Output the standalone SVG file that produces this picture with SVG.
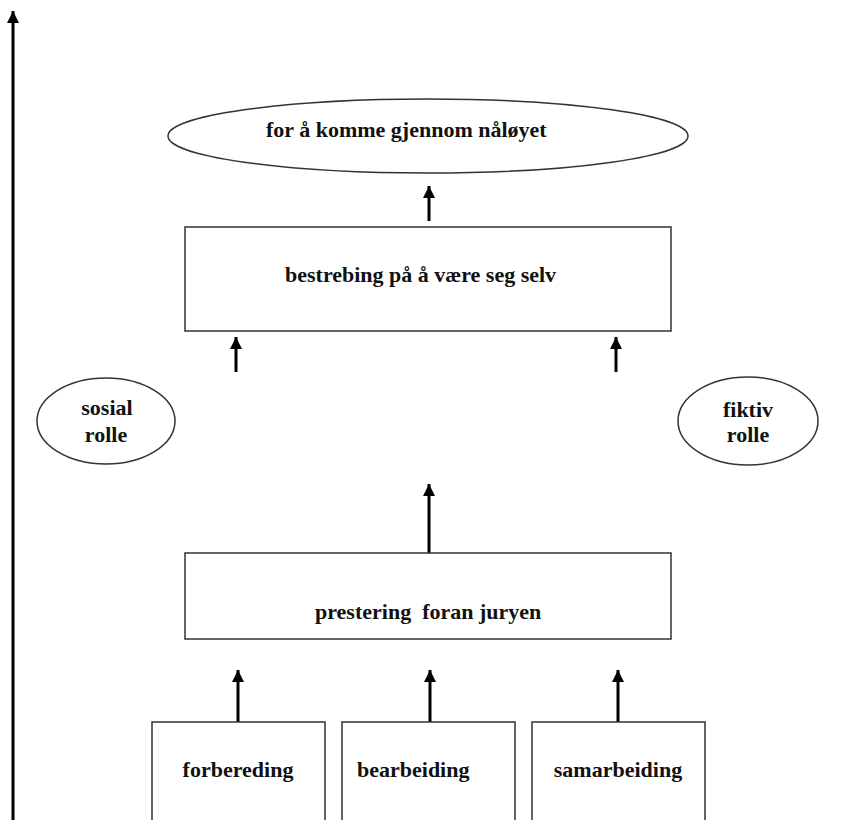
<svg xmlns="http://www.w3.org/2000/svg" width="853" height="820" viewBox="0 0 853 820">
  <style>
    .shape { fill: #ffffff; stroke: #333333; stroke-width: 1.5; }
    .label { font-family: "Liberation Serif", "Times New Roman", serif; font-weight: bold; font-size: 22px; fill: #111111; }
    .conn { stroke: #000000; stroke-width: 3; fill: none; marker-end: url(#head); }
  </style>
  <defs>
    <marker id="head" viewBox="0 0 12 12" refX="12" refY="6" markerWidth="12" markerHeight="12" markerUnits="userSpaceOnUse" orient="auto">
      <path d="M0,0 L12,6 L0,12 z" fill="#000000"/>
    </marker>
  </defs>
  <rect width="853" height="820" fill="#ffffff"/>

  <!-- connectors -->
  <g id="connectors">
    <line class="conn" x1="13" y1="820" x2="13" y2="11"/>
    <line class="conn" x1="429" y1="221" x2="429" y2="186"/>
    <line class="conn" x1="236" y1="372" x2="236" y2="337"/>
    <line class="conn" x1="616" y1="372" x2="616" y2="337"/>
    <line class="conn" x1="429" y1="553" x2="429" y2="484"/>
    <line class="conn" x1="238" y1="722" x2="238" y2="670"/>
    <line class="conn" x1="430" y1="722" x2="430" y2="670"/>
    <line class="conn" x1="618" y1="722" x2="618" y2="670"/>
  </g>

  <g id="goal">
    <ellipse class="shape" cx="428" cy="136" rx="260" ry="37"/>
    <text class="label" x="266" y="137">for å komme gjennom nåløyet</text>
  </g>

  <g id="striving">
    <rect class="shape" x="185" y="227" width="486" height="104"/>
    <text class="label" x="285" y="282">bestrebing på å være seg selv</text>
  </g>

  <g id="social-role">
    <ellipse class="shape" cx="106" cy="421" rx="69" ry="43"/>
    <text class="label" x="107" y="415" text-anchor="middle">sosial</text>
    <text class="label" x="106" y="442" text-anchor="middle">rolle</text>
  </g>

  <g id="fictive-role">
    <ellipse class="shape" cx="748" cy="421" rx="70" ry="44"/>
    <text class="label" x="748" y="417" text-anchor="middle">fiktiv</text>
    <text class="label" x="748" y="442" text-anchor="middle">rolle</text>
  </g>

  <g id="performance">
    <rect class="shape" x="185" y="553" width="486" height="86"/>
    <text class="label" x="315" y="619" xml:space="preserve">prestering  foran juryen</text>
  </g>

  <g id="preparation">
    <rect class="shape" x="152" y="722" width="173" height="110"/>
    <text class="label" x="238" y="777" text-anchor="middle">forbereding</text>
  </g>

  <g id="processing">
    <rect class="shape" x="342" y="722" width="173" height="110"/>
    <text class="label" x="357" y="777">bearbeiding</text>
  </g>

  <g id="collaboration">
    <rect class="shape" x="532" y="722" width="173" height="110"/>
    <text class="label" x="618" y="777" text-anchor="middle">samarbeiding</text>
  </g>
</svg>
